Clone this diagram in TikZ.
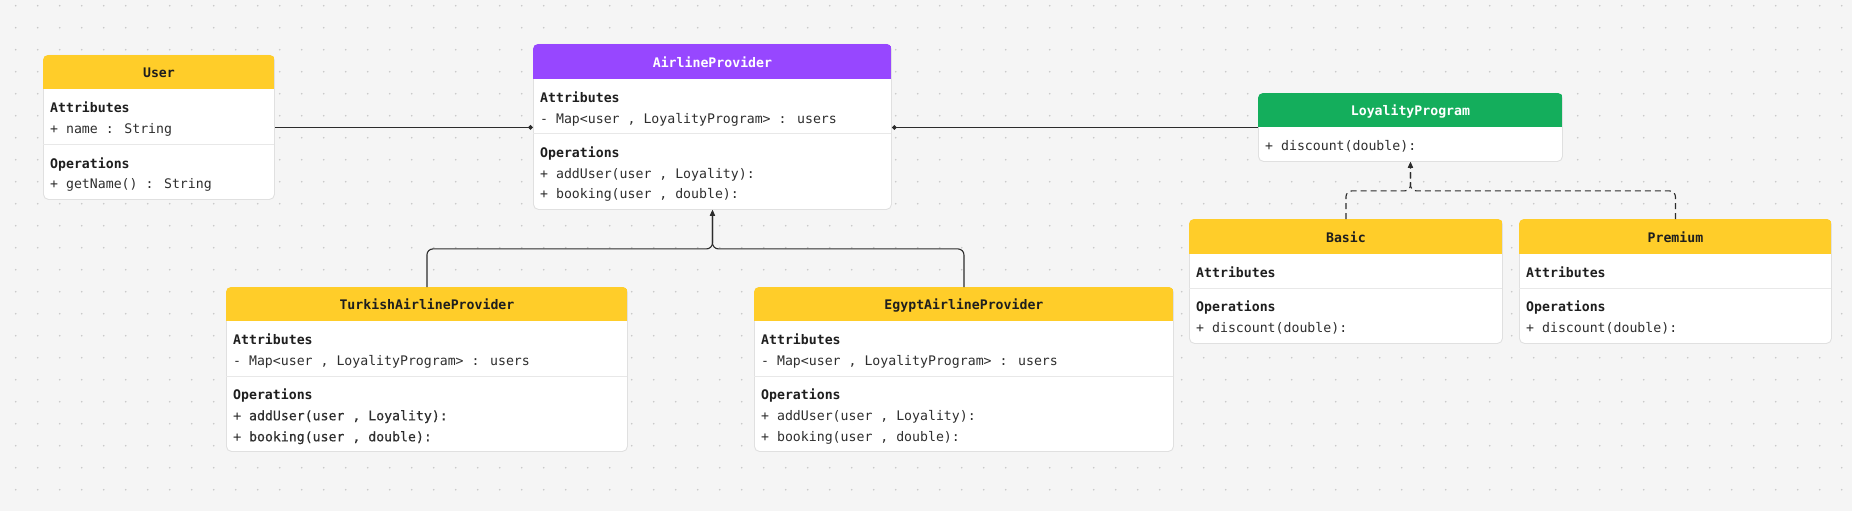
\documentclass[tikz,border=0pt]{standalone}
\usepackage{fontspec}
\setmainfont{DejaVu Sans Mono}
\newfontfamily\medmono{DejaVu Sans Mono}[FakeBold=0.45]
\usetikzlibrary{arrows.meta,positioning,calc}
\definecolor{canvas}{HTML}{F5F5F5}
\definecolor{griddot}{HTML}{C6C6C6}
\definecolor{hdryellow}{HTML}{FFCD29}
\definecolor{hdrpurple}{HTML}{9747FF}
\definecolor{hdrgreen}{HTML}{14AE5C}
\definecolor{boxline}{HTML}{E0E0E0}
\definecolor{rowline}{HTML}{E8E8E8}
\definecolor{inkdark}{HTML}{1E1E1E}
\definecolor{rowink}{HTML}{2E2E2E}
\definecolor{linkgray}{HTML}{2C2C2C}
\newcommand{\umlsize}{\fontsize{13.2}{16}\selectfont}

\begin{document}
\begin{tikzpicture}[x=1pt, y=-1pt,
    classbox/.style={draw=boxline, line width=0.9pt, fill=white,
      rounded corners=5pt, anchor=north west, inner sep=0pt},
    classhead/.style={anchor=north, inner sep=0pt, text=inkdark,
      text height=11.5pt, text depth=0pt, font=\umlsize\bfseries},
    member/.style={anchor=west, inner sep=0pt, text=rowink, yshift=-2pt,
      text height=9.6pt, text depth=3pt, font=\umlsize},
    section/.style={member, text=inkdark, font=\umlsize\bfseries},
    divider/.style={draw=rowline, line width=0.9pt},
    assoc/.style={draw=linkgray, line width=1.1pt,
      -{Diamond[length=5pt, width=5pt]}},
    inherit/.style={draw=linkgray, line width=1.1pt, rounded corners=6pt,
      -{Triangle[length=6pt, width=5pt]}},
    realize/.style={inherit, dash pattern=on 6pt off 4pt},
  ]

  % Canvas with dot grid
  \fill[canvas] (0,0) rectangle (1852,511);
  \useasboundingbox (0,0) rectangle (1852,511);
  \foreach \i in {0,...,83} {
    \foreach \j in {0,...,22} {
      \fill[griddot] (15.7+22*\i, 5.7+22*\j) circle (0.9);
    }
  }

  % User
  \node[classbox, minimum width=231, minimum height=144] (user) at (43,55) {};
  \begin{scope}
    \clip[rounded corners=5pt] (user.north west) rectangle (user.south east);
    \node[classhead, fill=hdryellow, minimum width=231, minimum height=34]
      (userhead) at (user.north) {User};
  \end{scope}
  \node[section] (userattr) at (50,107) {Attributes};
  \node[member] (username) at (50,128) {+ name : String};
  \draw[divider] (43,144) -- (274,144);
  \node[section] (userops) at (50,163) {Operations};
  \node[member] (usergetname) at (50,183) {+ getName() : String};

  % AirlineProvider
  \node[classbox, minimum width=358, minimum height=165] (airline) at (533,44) {};
  \begin{scope}
    \clip[rounded corners=5pt] (airline.north west) rectangle (airline.south east);
    \node[classhead, fill=hdrpurple, text=white, minimum width=358,
      minimum height=35] (airlinehead) at (airline.north) {AirlineProvider};
  \end{scope}
  \node[section] (airlineattr) at (540,97) {Attributes};
  \node[member] (airlinemap) at (540,118) {- Map<user , LoyalityProgram> : users};
  \draw[divider] (533,133) -- (891,133);
  \node[section] (airlineops) at (540,152) {Operations};
  \node[member] (airlineadd) at (540,173) {+ addUser(user , Loyality):};
  \node[member] (airlinebook) at (540,193) {+ booking(user , double):};

  % LoyalityProgram
  \node[classbox, minimum width=304, minimum height=68] (loyalty) at (1258,93) {};
  \begin{scope}
    \clip[rounded corners=5pt] (loyalty.north west) rectangle (loyalty.south east);
    \node[classhead, fill=hdrgreen, text=white, minimum width=304,
      minimum height=34] (loyaltyhead) at (loyalty.north) {LoyalityProgram};
  \end{scope}
  \node[member] (loyaltydisc) at (1265,145) {+ discount(double):};

  % Basic
  \node[classbox, minimum width=313, minimum height=124] (basic) at (1189,219) {};
  \begin{scope}
    \clip[rounded corners=5pt] (basic.north west) rectangle (basic.south east);
    \node[classhead, fill=hdryellow, minimum width=313, minimum height=35]
      (basichead) at (basic.north) {Basic};
  \end{scope}
  \node[section] (basicattr) at (1196,272) {Attributes};
  \draw[divider] (1189,288) -- (1502,288);
  \node[section] (basicops) at (1196,306) {Operations};
  \node[member] (basicdisc) at (1196,327) {+ discount(double):};

  % Premium
  \node[classbox, minimum width=312, minimum height=124] (premium) at (1519,219) {};
  \begin{scope}
    \clip[rounded corners=5pt] (premium.north west) rectangle (premium.south east);
    \node[classhead, fill=hdryellow, minimum width=312, minimum height=35]
      (premiumhead) at (premium.north) {Premium};
  \end{scope}
  \node[section] (premiumattr) at (1526,272) {Attributes};
  \draw[divider] (1519,288) -- (1831,288);
  \node[section] (premiumops) at (1526,306) {Operations};
  \node[member] (premiumdisc) at (1526,327) {+ discount(double):};

  % TurkishAirlineProvider
  \node[classbox, minimum width=401, minimum height=164] (turkish) at (226,287) {};
  \begin{scope}
    \clip[rounded corners=5pt] (turkish.north west) rectangle (turkish.south east);
    \node[classhead, fill=hdryellow, minimum width=401, minimum height=34]
      (turkishhead) at (turkish.north) {TurkishAirlineProvider};
  \end{scope}
  \node[section] (turkishattr) at (233,339) {Attributes};
  \node[member] (turkishmap) at (233,360) {- Map<user , LoyalityProgram> : users};
  \draw[divider] (226,376) -- (627,376);
  \node[section] (turkishops) at (233,394) {Operations};
  \node[member, font=\umlsize\medmono] (turkishadd) at (233,415) {+ addUser(user , Loyality):};
  \node[member, font=\umlsize\medmono] (turkishbook) at (233,436) {+ booking(user , double):};

  % EgyptAirlineProvider
  \node[classbox, minimum width=419, minimum height=164] (egypt) at (754,287) {};
  \begin{scope}
    \clip[rounded corners=5pt] (egypt.north west) rectangle (egypt.south east);
    \node[classhead, fill=hdryellow, minimum width=419, minimum height=34]
      (egypthead) at (egypt.north) {EgyptAirlineProvider};
  \end{scope}
  \node[section] (egyptattr) at (761,339) {Attributes};
  \node[member] (egyptmap) at (761,360) {- Map<user , LoyalityProgram> : users};
  \draw[divider] (754,376) -- (1173,376);
  \node[section] (egyptops) at (761,394) {Operations};
  \node[member] (egyptadd) at (761,415) {+ addUser(user , Loyality):};
  \node[member] (egyptbook) at (761,436) {+ booking(user , double):};

  % Associations
  \draw[assoc] (user.east) -- (user.east -| airline.west);
  \draw[assoc] (loyalty.west) -- (loyalty.west -| airline.east);

  % Inheritance
  \coordinate[below=39pt of airline.south] (apjoin);
  \draw[inherit] (turkish.north) |- (apjoin) -- (airline.south);
  \draw[inherit] (egypt.north) |- (apjoin) -- (airline.south);

  % Realization
  \coordinate[below=29pt of loyalty.south] (lpjoin);
  \draw[realize] (basic.north) |- (lpjoin) -- (loyalty.south);
  \draw[realize] (premium.north) |- (lpjoin) -- (loyalty.south);

\end{tikzpicture}
\end{document}
